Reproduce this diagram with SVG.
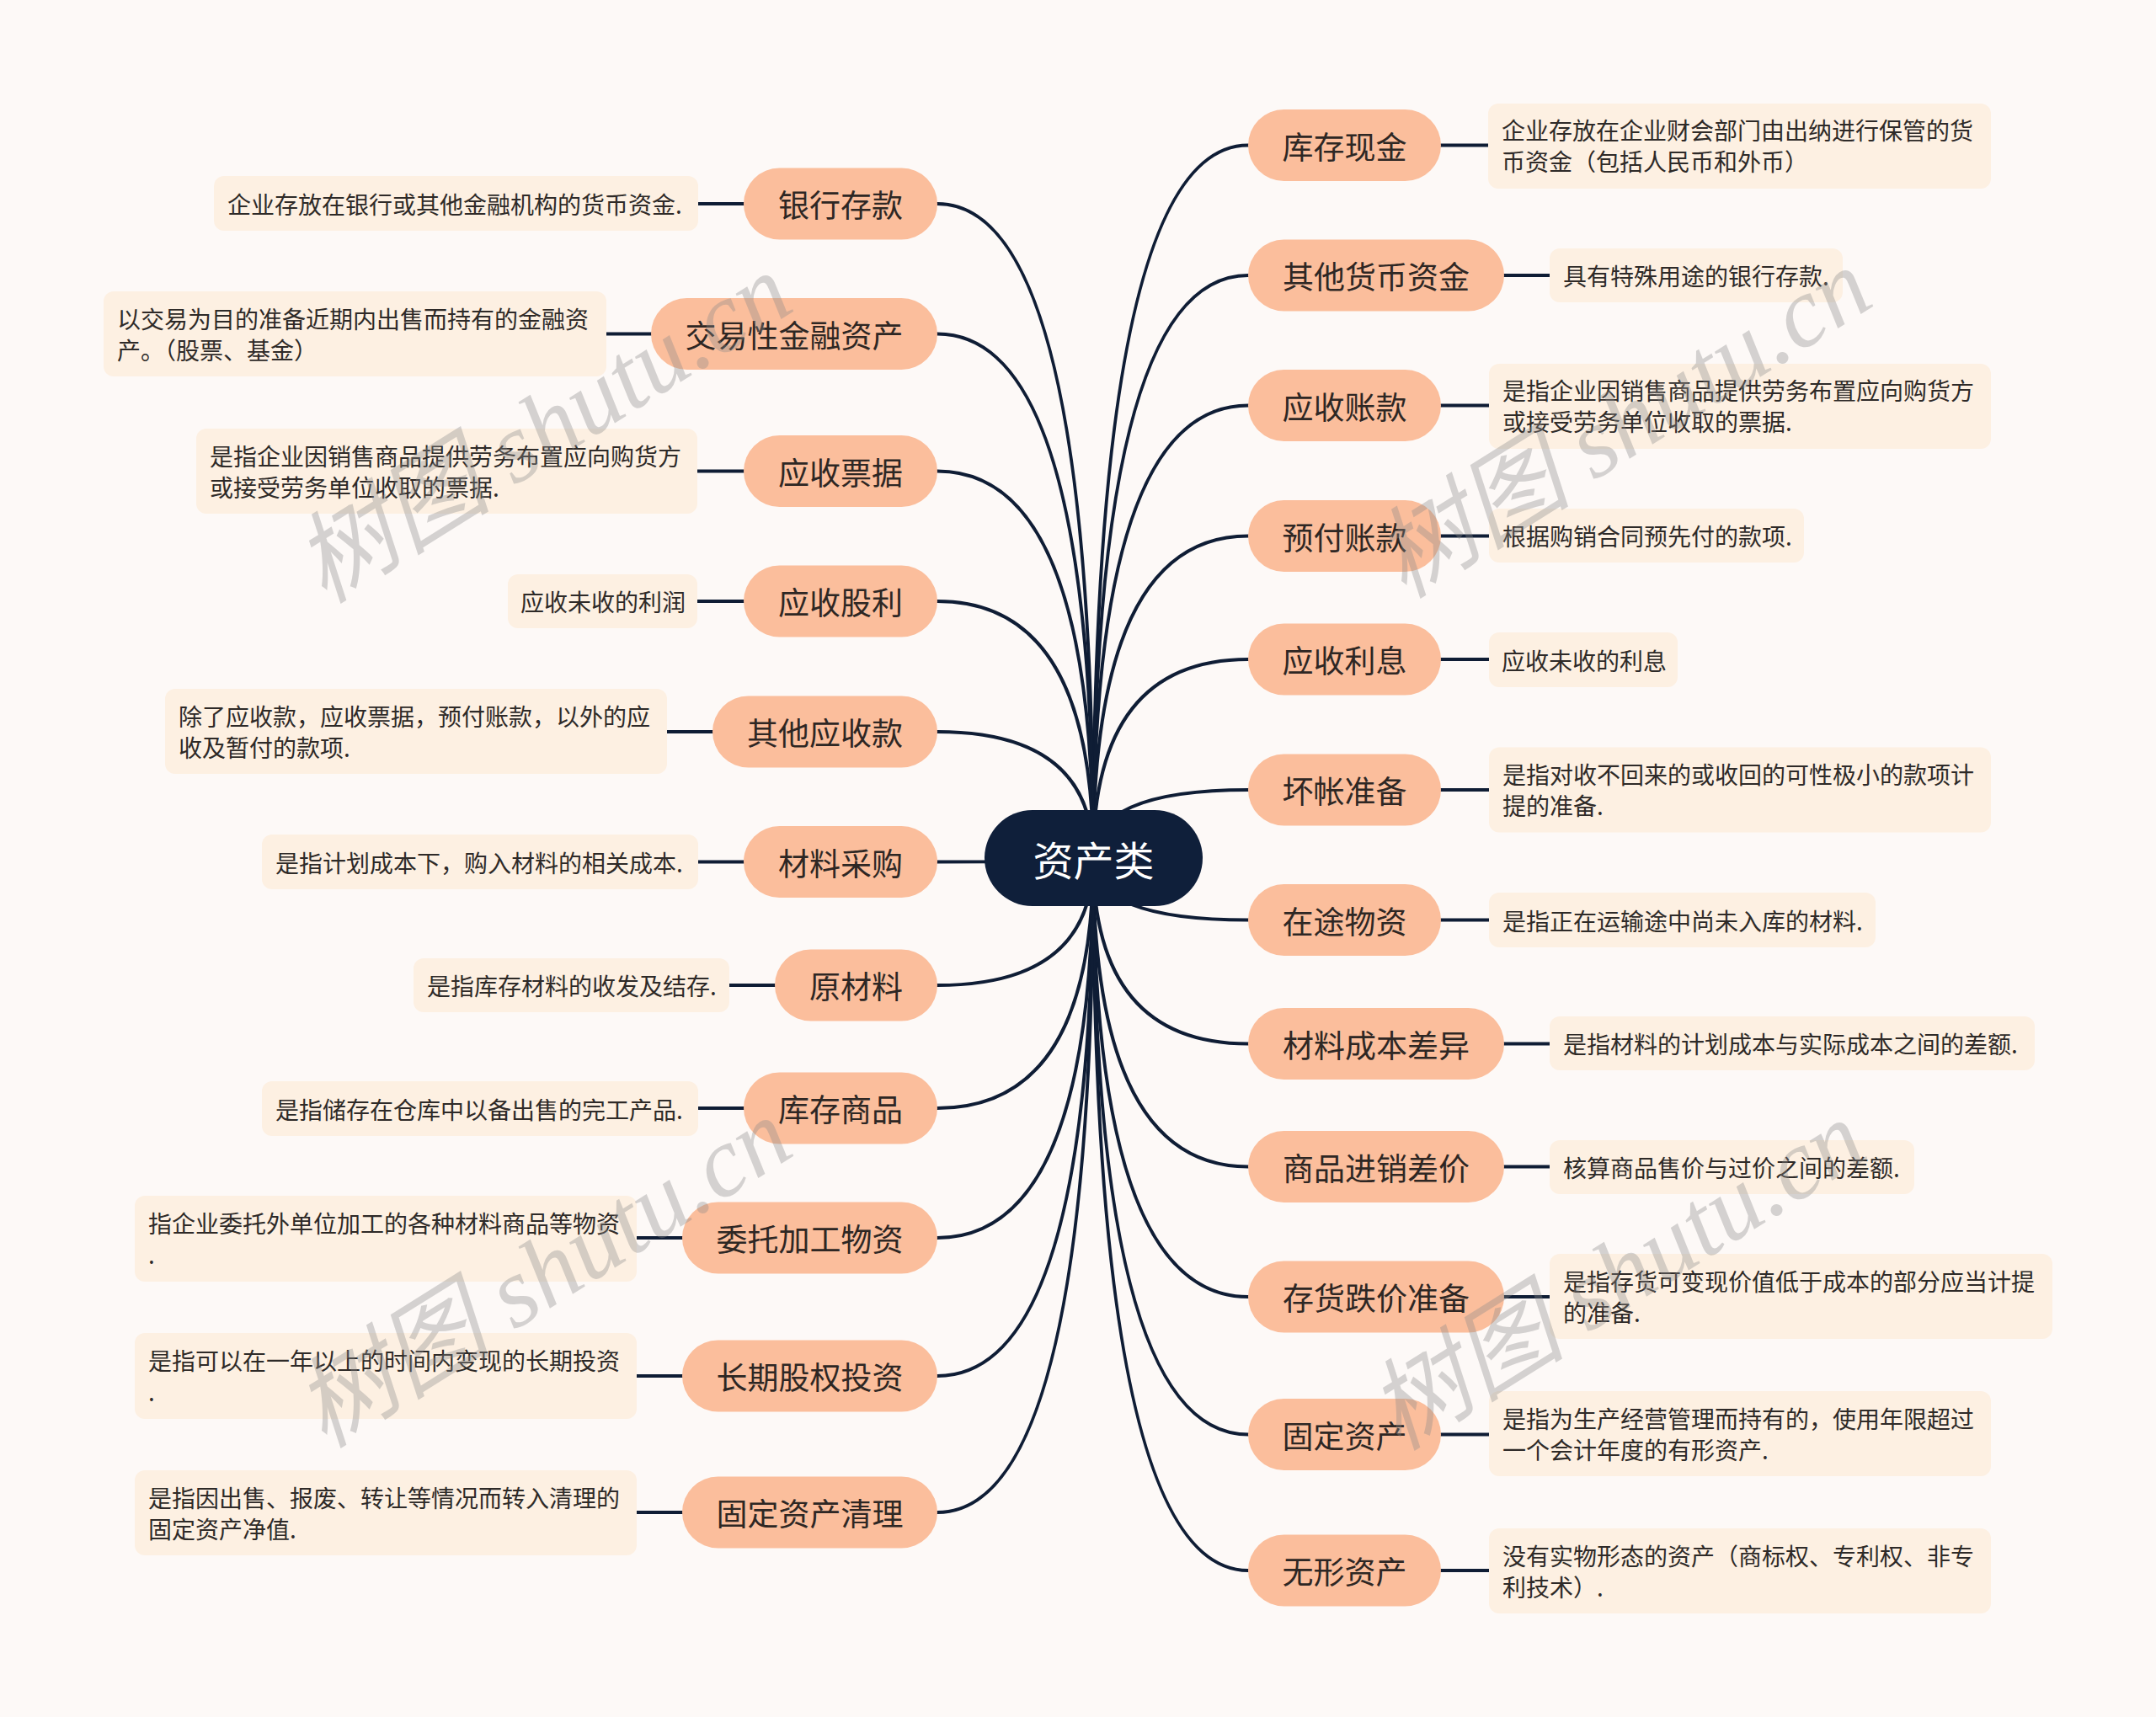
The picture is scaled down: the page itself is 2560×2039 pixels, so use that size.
<svg xmlns="http://www.w3.org/2000/svg" width="2560" height="2039" viewBox="0 0 2560 2039">
<style>
.bg{fill:#FDF9F7}
.pill{fill:#FBBE9C}
.ptxt{font-family:"Noto Sans CJK SC","Noto Sans",sans-serif;font-size:37px;fill:#2E2724;text-anchor:middle;dominant-baseline:central}
.box{fill:#FDF0E2}
.btxt{font-family:"Noto Sans CJK SC","Noto Sans",sans-serif;font-size:28px;fill:#2E2A28;dominant-baseline:central}
.root{fill:#0F1F3A}
.rtxt{font-family:"Noto Sans CJK SC","Noto Sans",sans-serif;font-size:48px;fill:#FFFFFF;text-anchor:middle;dominant-baseline:central}
.edge{fill:none;stroke:#0F1D35;stroke-width:4;stroke-linecap:round}
.wm{font-family:"Liberation Serif","Noto Sans CJK SC",serif;font-style:italic;font-size:118px;fill:#8A8A8A;opacity:0.35;text-anchor:middle;dominant-baseline:central}
</style>
<rect class="bg" x="0" y="0" width="2560" height="2039"/>

<g id="connectors">
<path class="edge" d="M1298 1019 Q1298 172.5 1482 172.5"/>
<path class="edge" d="M1298 1019 Q1298 327 1482 327"/>
<path class="edge" d="M1298 1019 Q1298 481.5 1482 481.5"/>
<path class="edge" d="M1298 1019 Q1298 636.5 1482 636.5"/>
<path class="edge" d="M1298 1019 Q1298 783 1482 783"/>
<path class="edge" d="M1298 1019 Q1298 938 1482 938"/>
<path class="edge" d="M1298 1019 Q1298 1092.5 1482 1092.5"/>
<path class="edge" d="M1298 1019 Q1298 1239.5 1482 1239.5"/>
<path class="edge" d="M1298 1019 Q1298 1385.5 1482 1385.5"/>
<path class="edge" d="M1298 1019 Q1298 1540 1482 1540"/>
<path class="edge" d="M1298 1019 Q1298 1703.5 1482 1703.5"/>
<path class="edge" d="M1298 1019 Q1298 1865 1482 1865"/>
<path class="edge" d="M1298 1019 Q1298 242 1113 242"/>
<path class="edge" d="M1298 1019 Q1298 396.5 1113 396.5"/>
<path class="edge" d="M1298 1019 Q1298 559.5 1113 559.5"/>
<path class="edge" d="M1298 1019 Q1298 714 1113 714"/>
<path class="edge" d="M1298 1019 Q1298 869 1113 869"/>
<path class="edge" d="M1298 1019 Q1298 1023.5 1113 1023.5"/>
<path class="edge" d="M1298 1019 Q1298 1170 1113 1170"/>
<path class="edge" d="M1298 1019 Q1298 1316 1113 1316"/>
<path class="edge" d="M1298 1019 Q1298 1470 1113 1470"/>
<path class="edge" d="M1298 1019 Q1298 1634 1113 1634"/>
<path class="edge" d="M1298 1019 Q1298 1796 1113 1796"/>
<path class="edge" d="M1711 172.5 H1767"/>
<path class="edge" d="M1786 327 H1840"/>
<path class="edge" d="M1711 481.5 H1768"/>
<path class="edge" d="M1711 636.5 H1768"/>
<path class="edge" d="M1711 783 H1768"/>
<path class="edge" d="M1711 938 H1768"/>
<path class="edge" d="M1711 1092.5 H1768"/>
<path class="edge" d="M1786 1239.5 H1840"/>
<path class="edge" d="M1786 1385.5 H1840"/>
<path class="edge" d="M1786 1540 H1840"/>
<path class="edge" d="M1711 1703.5 H1768"/>
<path class="edge" d="M1711 1865 H1768"/>
<path class="edge" d="M883 242 H829"/>
<path class="edge" d="M773 396.5 H720"/>
<path class="edge" d="M883 559.5 H828"/>
<path class="edge" d="M883 714 H828"/>
<path class="edge" d="M846 869 H792"/>
<path class="edge" d="M883 1023.5 H829"/>
<path class="edge" d="M920 1170 H866"/>
<path class="edge" d="M883 1316 H829"/>
<path class="edge" d="M810 1470 H756"/>
<path class="edge" d="M810 1634 H756"/>
<path class="edge" d="M810 1796 H756"/>
</g>

<g id="root">
<rect class="root" x="1169" y="962" width="259" height="114" rx="57"/>
<text class="rtxt" x="1298.5" y="1019">资产类</text>
</g>

<g id="n-kucunxianjin">
<rect class="pill" x="1482" y="130" width="229" height="85" rx="42.5"/>
<text class="ptxt" x="1596.5" y="172.5">库存现金</text>
<rect class="box" x="1767" y="123" width="597" height="101" rx="12"/>
<text class="btxt" x="1783" y="154">企业存放在企业财会部门由出纳进行保管的货</text>
<text class="btxt" x="1783" y="191">币资金（包括人民币和外币）</text>
</g>
<g id="n-qitahuobi">
<rect class="pill" x="1482" y="284.5" width="304" height="85" rx="42.5"/>
<text class="ptxt" x="1634" y="327">其他货币资金</text>
<rect class="box" x="1840" y="295" width="348" height="64" rx="12"/>
<text class="btxt" x="1856" y="327">具有特殊用途的银行存款.</text>
</g>
<g id="n-yingshouzhangkuan">
<rect class="pill" x="1482" y="439" width="229" height="85" rx="42.5"/>
<text class="ptxt" x="1596.5" y="481.5">应收账款</text>
<rect class="box" x="1768" y="432" width="596" height="101" rx="12"/>
<text class="btxt" x="1784" y="463">是指企业因销售商品提供劳务布置应向购货方</text>
<text class="btxt" x="1784" y="500">或接受劳务单位收取的票据.</text>
</g>
<g id="n-yufuzhangkuan">
<rect class="pill" x="1482" y="594" width="229" height="85" rx="42.5"/>
<text class="ptxt" x="1596.5" y="636.5">预付账款</text>
<rect class="box" x="1768" y="604" width="374" height="64" rx="12"/>
<text class="btxt" x="1784" y="636">根据购销合同预先付的款项.</text>
</g>
<g id="n-yingshoulixi">
<rect class="pill" x="1482" y="740.5" width="229" height="85" rx="42.5"/>
<text class="ptxt" x="1596.5" y="783">应收利息</text>
<rect class="box" x="1768" y="751" width="224" height="65" rx="12"/>
<text class="btxt" x="1783" y="783.5">应收未收的利息</text>
</g>
<g id="n-huaizhangzhunbei">
<rect class="pill" x="1482" y="895.5" width="229" height="85" rx="42.5"/>
<text class="ptxt" x="1596.5" y="938">坏帐准备</text>
<rect class="box" x="1768" y="887.5" width="596" height="101" rx="12"/>
<text class="btxt" x="1784" y="919">是指对收不回来的或收回的可性极小的款项计</text>
<text class="btxt" x="1784" y="956">提的准备.</text>
</g>
<g id="n-zaituwuzi">
<rect class="pill" x="1482" y="1050" width="229" height="85" rx="42.5"/>
<text class="ptxt" x="1596.5" y="1092.5">在途物资</text>
<rect class="box" x="1768" y="1060" width="459" height="65" rx="12"/>
<text class="btxt" x="1784" y="1092.5">是指正在运输途中尚未入库的材料.</text>
</g>
<g id="n-cailiaochengben">
<rect class="pill" x="1482" y="1197" width="304" height="85" rx="42.5"/>
<text class="ptxt" x="1634" y="1239.5">材料成本差异</text>
<rect class="box" x="1840" y="1207" width="576" height="64" rx="12"/>
<text class="btxt" x="1856" y="1239">是指材料的计划成本与实际成本之间的差额.</text>
</g>
<g id="n-shangpinjinxiao">
<rect class="pill" x="1482" y="1343" width="304" height="85" rx="42.5"/>
<text class="ptxt" x="1634" y="1385.5">商品进销差价</text>
<rect class="box" x="1840" y="1354" width="433" height="64" rx="12"/>
<text class="btxt" x="1856" y="1386">核算商品售价与过价之间的差额.</text>
</g>
<g id="n-cunhuodiejia">
<rect class="pill" x="1482" y="1497.5" width="304" height="85" rx="42.5"/>
<text class="ptxt" x="1634" y="1540">存货跌价准备</text>
<rect class="box" x="1840" y="1489" width="597" height="101" rx="12"/>
<text class="btxt" x="1856" y="1521">是指存货可变现价值低于成本的部分应当计提</text>
<text class="btxt" x="1856" y="1558">的准备.</text>
</g>
<g id="n-gudingzichan">
<rect class="pill" x="1482" y="1661" width="229" height="85" rx="42.5"/>
<text class="ptxt" x="1596.5" y="1703.5">固定资产</text>
<rect class="box" x="1768" y="1652" width="596" height="101" rx="12"/>
<text class="btxt" x="1784" y="1684">是指为生产经营管理而持有的，使用年限超过</text>
<text class="btxt" x="1784" y="1721">一个会计年度的有形资产.</text>
</g>
<g id="n-wuxingzichan">
<rect class="pill" x="1482" y="1822.5" width="229" height="85" rx="42.5"/>
<text class="ptxt" x="1596.5" y="1865">无形资产</text>
<rect class="box" x="1768" y="1815" width="596" height="101" rx="12"/>
<text class="btxt" x="1784" y="1847">没有实物形态的资产（商标权、专利权、非专</text>
<text class="btxt" x="1784" y="1884">利技术）.</text>
</g>

<g id="n-yinhangcunkuan">
<rect class="pill" x="883" y="199.5" width="230" height="85" rx="42.5"/>
<text class="ptxt" x="998" y="242">银行存款</text>
<rect class="box" x="254" y="209" width="575" height="65" rx="12"/>
<text class="btxt" x="270" y="241.5">企业存放在银行或其他金融机构的货币资金.</text>
</g>
<g id="n-jiaoyixing">
<rect class="pill" x="773" y="354" width="340" height="85" rx="42.5"/>
<text class="ptxt" x="943" y="396.5">交易性金融资产</text>
<rect class="box" x="123" y="346" width="597" height="101" rx="12"/>
<text class="btxt" x="139" y="378">以交易为目的准备近期内出售而持有的金融资</text>
<text class="btxt" x="139" y="415">产。（股票、基金）</text>
</g>
<g id="n-yingshoupiaoju">
<rect class="pill" x="883" y="517" width="230" height="85" rx="42.5"/>
<text class="ptxt" x="998" y="559.5">应收票据</text>
<rect class="box" x="233" y="509" width="595" height="101" rx="12"/>
<text class="btxt" x="249" y="541">是指企业因销售商品提供劳务布置应向购货方</text>
<text class="btxt" x="249" y="578">或接受劳务单位收取的票据.</text>
</g>
<g id="n-yingshouguli">
<rect class="pill" x="883" y="671.5" width="230" height="85" rx="42.5"/>
<text class="ptxt" x="998" y="714">应收股利</text>
<rect class="box" x="603" y="682" width="225" height="64" rx="12"/>
<text class="btxt" x="618" y="714">应收未收的利润</text>
</g>
<g id="n-qitayingshou">
<rect class="pill" x="846" y="826.5" width="267" height="85" rx="42.5"/>
<text class="ptxt" x="979.5" y="869">其他应收款</text>
<rect class="box" x="196" y="818" width="596" height="101" rx="12"/>
<text class="btxt" x="212" y="850">除了应收款，应收票据，预付账款，以外的应</text>
<text class="btxt" x="212" y="887">收及暂付的款项.</text>
</g>
<g id="n-cailiaocaigou">
<rect class="pill" x="883" y="981" width="230" height="85" rx="42.5"/>
<text class="ptxt" x="998" y="1023.5">材料采购</text>
<rect class="box" x="311" y="991" width="518" height="65" rx="12"/>
<text class="btxt" x="327" y="1023.5">是指计划成本下，购入材料的相关成本.</text>
</g>
<g id="n-yuancailiao">
<rect class="pill" x="920" y="1127.5" width="193" height="85" rx="42.5"/>
<text class="ptxt" x="1016.5" y="1170">原材料</text>
<rect class="box" x="491" y="1138" width="375" height="64" rx="12"/>
<text class="btxt" x="507" y="1170">是指库存材料的收发及结存.</text>
</g>
<g id="n-kucunshangpin">
<rect class="pill" x="883" y="1273.5" width="230" height="85" rx="42.5"/>
<text class="ptxt" x="998" y="1316">库存商品</text>
<rect class="box" x="311" y="1284" width="518" height="65" rx="12"/>
<text class="btxt" x="327" y="1316.5">是指储存在仓库中以备出售的完工产品.</text>
</g>
<g id="n-weitojiagong">
<rect class="pill" x="810" y="1427.5" width="303" height="85" rx="42.5"/>
<text class="ptxt" x="961.5" y="1470">委托加工物资</text>
<rect class="box" x="160" y="1420" width="596" height="102" rx="12"/>
<text class="btxt" x="176" y="1452">指企业委托外单位加工的各种材料商品等物资</text>
<text class="btxt" x="176" y="1489">.</text>
</g>
<g id="n-changqiguquan">
<rect class="pill" x="810" y="1591.5" width="303" height="85" rx="42.5"/>
<text class="ptxt" x="961.5" y="1634">长期股权投资</text>
<rect class="box" x="160" y="1583" width="596" height="102" rx="12"/>
<text class="btxt" x="176" y="1615">是指可以在一年以上的时间内变现的长期投资</text>
<text class="btxt" x="176" y="1652">.</text>
</g>
<g id="n-gudingzichanqingli">
<rect class="pill" x="810" y="1753.5" width="303" height="85" rx="42.5"/>
<text class="ptxt" x="961.5" y="1796">固定资产清理</text>
<rect class="box" x="160" y="1746" width="596" height="101" rx="12"/>
<text class="btxt" x="176" y="1778">是指因出售、报废、转让等情况而转入清理的</text>
<text class="btxt" x="176" y="1815">固定资产净值.</text>
</g>

<g id="watermarks">
<text class="wm" transform="translate(645 509) rotate(-32)">树图 shutu.cn</text>
<text class="wm" transform="translate(645 1512) rotate(-32)">树图 shutu.cn</text>
<text class="wm" transform="translate(1927 503) rotate(-32)">树图 shutu.cn</text>
<text class="wm" transform="translate(1920 1515) rotate(-32)">树图 shutu.cn</text>
</g>
</svg>
